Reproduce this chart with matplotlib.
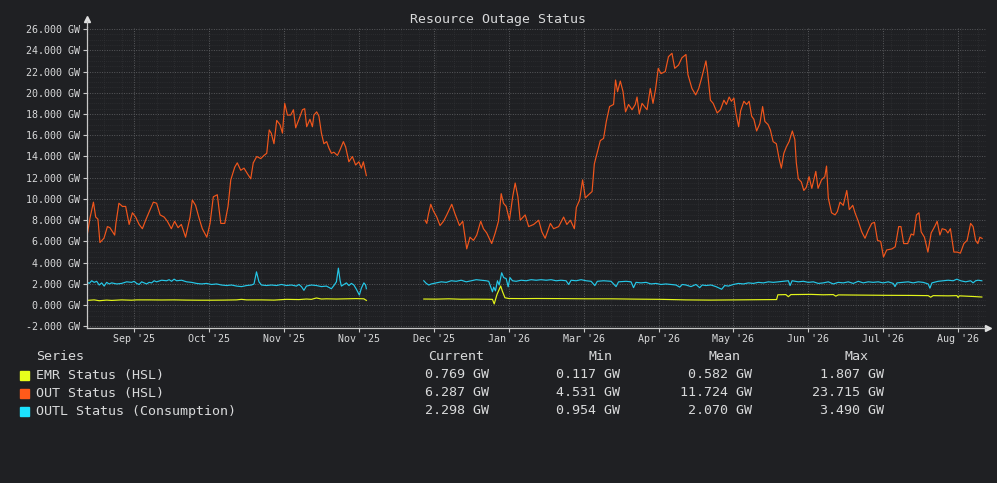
import numpy as np
import matplotlib
matplotlib.use("Agg")
import matplotlib.pyplot as plt
from matplotlib.ticker import MultipleLocator, FixedLocator
from matplotlib.patches import Rectangle

# time axis in days from start of window (~mid Aug 2025)
tick_days = [19, 49, 79, 109, 139, 169, 199, 229, 259, 289, 319, 349]
tick_labels = ["Sep '25", "Oct '25", "Nov '25", "Nov '25", "Dec '25", "Jan '26",
               "Mar '26", "Apr '26", "May '26", "Jun '26", "Jul '26", "Aug '26"]

# OUT Status (HSL) - two segments with a data gap
out_days_a = [0.2, 1.3, 2.7, 3.6, 4.5, 5.3, 6.9, 8.3, 9.3, 11.2, 11.7, 12.9, 14.3, 15.6, 17.0,
              18.3, 19.6, 21.0, 22.3, 23.6, 25.4, 26.7, 28.0, 29.4, 31.0, 32.3, 33.9, 35.2,
              36.6, 37.9, 39.6, 41.4, 42.3, 43.6, 45.0, 46.3, 48.1, 49.4, 50.7, 52.3, 53.7,
              55.3, 56.6, 57.7, 59.3, 60.3, 61.7, 63.0, 64.3, 65.7, 66.7, 68.1, 69.7, 71.0,
              72.1, 73.1, 73.9, 75.0, 76.1, 77.4, 78.4, 79.3, 80.4, 81.7, 82.8, 83.7, 85.0,
              86.4, 87.3, 88.1, 89.4, 90.4, 91.0, 92.1, 93.0, 94.0, 95.0, 96.1, 97.0, 98.0,
              99.0, 100.4, 101.4, 102.8, 103.7, 105.0, 106.4, 107.7, 109.0, 110.0, 110.8, 112.0]
out_vals_a = [6.6, 8.2, 9.7, 8.3, 8.1, 5.9, 6.3, 7.4, 7.3, 6.6, 7.7, 9.6, 9.3, 9.3, 7.6,
              8.7, 8.3, 7.6, 7.2, 8.0, 9.0, 9.7, 9.6, 8.5, 8.3, 7.9, 7.2, 7.9,
              7.3, 7.6, 6.4, 8.3, 9.9, 9.4, 8.2, 7.2, 6.4, 7.7, 10.2, 10.4, 7.7,
              7.7, 9.3, 11.8, 13.0, 13.4, 12.7, 12.9, 12.4, 11.9, 13.4, 14.0, 13.8, 14.1,
              14.3, 16.5, 16.2, 15.2, 17.4, 17.0, 16.2, 19.0, 17.9, 17.9, 18.4, 16.7, 17.5,
              18.4, 18.5, 16.8, 17.5, 16.8, 17.9, 18.2, 17.8, 16.2, 15.2, 15.4, 14.8, 14.3,
              14.4, 14.1, 14.6, 15.4, 14.9, 13.5, 14.0, 13.2, 13.5, 12.9, 13.5, 12.2]
out_days_b = [135.5, 136.2, 136.8, 137.8, 138.8, 140.2, 141.5, 142.9, 144.2, 146.2, 147.5,
              149.3, 150.6, 152.2, 153.5, 154.9, 156.2, 157.8, 158.9, 160.2, 162.2, 163.6,
              164.9, 166.0, 166.9, 168.0, 169.3, 170.6, 171.6, 172.7, 173.6, 175.6, 177.0,
              179.0, 181.0, 182.3, 183.6, 185.7, 187.0, 189.0, 191.0, 192.3, 193.7, 195.3,
              196.1, 197.4, 198.6, 199.7, 201.0, 202.4, 203.3, 204.4, 205.7, 207.0, 208.1,
              209.4, 211.0, 211.8, 212.6, 213.7, 214.8, 215.8, 217.0, 218.4, 219.7, 220.4,
              221.3, 222.4, 224.4, 225.7, 226.8, 227.8, 228.9, 230.0, 231.7, 233.0, 234.4,
              235.5, 237.0, 238.4, 240.0, 240.8, 242.4, 243.9, 245.1, 246.4, 248.0, 248.7,
              249.8, 250.9, 252.5, 253.8, 255.2, 256.2, 257.3, 258.2, 259.2, 260.0, 261.1,
              261.9, 263.2, 264.3, 265.3, 266.3, 267.2, 268.3, 269.6, 270.7, 271.6, 272.9,
              273.8, 274.9, 276.2, 277.3, 278.2, 279.2, 280.2, 281.3, 282.6, 283.6, 284.2,
              285.0, 286.2, 287.2, 288.2, 289.3, 290.4, 292.0, 292.9, 294.3, 295.6, 296.3,
              297.0, 298.3, 299.7, 300.6, 301.7, 303.0, 304.4, 305.4, 306.8, 307.7, 309.0,
              310.4, 311.7, 313.1, 314.4, 315.5, 316.7, 318.0, 319.1, 320.4, 322.5, 323.8,
              325.2, 326.1, 327.2, 328.8, 330.2, 331.2, 332.3, 333.3, 334.2, 335.5, 336.9,
              338.2, 339.6, 340.6, 341.7, 342.6, 344.0, 344.9, 345.9, 347.3, 348.6, 349.9,
              351.3, 352.6, 354.0, 355.0, 356.0, 356.9, 357.7, 358.6]
out_vals_b = [8.0, 7.7, 8.5, 9.5, 8.9, 8.3, 7.5, 7.9, 8.5, 9.5, 8.6,
              7.5, 7.9, 5.3, 6.4, 6.1, 6.6, 7.9, 7.2, 6.8, 5.8, 6.8,
              7.9, 10.5, 9.6, 9.3, 8.0, 10.2, 11.5, 10.2, 8.0, 8.5, 7.4,
              7.6, 8.0, 6.9, 6.3, 7.7, 7.2, 7.4, 8.3, 7.6, 8.0, 7.2,
              9.2, 9.9, 11.8, 10.1, 10.4, 10.7, 13.3, 14.3, 15.5, 15.7, 17.3,
              18.7, 18.9, 21.2, 20.1, 21.1, 20.1, 18.2, 18.9, 18.4, 18.9, 19.6,
              18.0, 19.0, 18.4, 20.4, 19.0, 20.3, 22.3, 21.8, 22.0, 23.4, 23.715,
              22.3, 22.6, 23.3, 23.6, 21.7, 20.4, 19.8, 20.4, 21.5, 23.0, 21.8,
              19.3, 19.0, 18.1, 18.4, 19.3, 18.9, 19.6, 19.2, 19.5, 18.1, 16.8,
              18.3, 19.2, 18.9, 19.2, 17.8, 17.5, 16.4, 17.1, 18.7, 17.3, 17.0,
              16.5, 15.4, 15.2, 13.8, 12.9, 14.3, 14.9, 15.4, 16.4, 15.6, 13.4,
              11.9, 11.6, 10.8, 11.1, 12.1, 11.0, 12.6, 11.0, 11.8, 12.1, 13.1,
              10.1, 8.7, 8.5, 8.8, 9.7, 9.4, 10.8, 9.0, 9.4, 8.7, 7.9,
              6.9, 6.3, 7.1, 7.7, 7.8, 6.1, 6.0, 4.531, 5.2, 5.3, 5.5,
              7.4, 7.4, 5.8, 5.8, 6.7, 6.6, 8.5, 8.7, 6.9, 6.4, 5.0,
              6.8, 7.4, 7.9, 6.6, 7.2, 7.1, 6.8, 7.2, 5.0, 5.0, 4.9,
              5.8, 6.1, 7.7, 7.4, 6.1, 5.8, 6.4, 6.287]

# OUTL Status (Consumption)
outl_days_a = [0, 1, 2, 3, 4, 5, 6, 7, 8, 9, 10, 12, 14, 16, 18, 19, 20, 21, 22, 24, 25, 26,
               27, 28, 30, 32, 33, 34, 35, 36, 38, 40, 42, 44, 46, 48, 50, 52, 54, 56, 58, 60,
               62, 64, 66, 67, 68, 69, 70, 72, 74, 76, 78, 80, 82, 84, 85, 86, 87, 88, 90, 92,
               94, 96, 98, 99, 100, 100.8, 101.5, 102, 103, 104, 105, 106, 107, 108, 109.2,
               110, 111, 111.7, 112]
outl_vals_a = [2.2, 2.05, 2.3, 2.15, 2.25, 1.9, 2.1, 1.8, 2.15, 2.0, 2.1, 2.0, 2.05, 2.2, 2.15,
               2.25, 2.05, 1.95, 2.2, 2.0, 2.15, 2.1, 2.3, 2.2, 2.35, 2.3, 2.4, 2.25, 2.45, 2.3,
               2.35, 2.2, 2.15, 2.05, 2.0, 2.05, 1.95, 2.0, 1.9, 1.85, 1.9, 1.8, 1.75, 1.85,
               1.9, 2.0, 3.14, 2.2, 1.9, 1.85, 1.9, 1.85, 1.95, 1.85, 1.9, 1.8, 1.95, 1.75,
               1.4, 1.8, 1.9, 1.85, 1.75, 1.8, 1.55, 1.85, 2.2, 3.49, 2.3, 1.8, 1.95, 2.1, 1.85,
               2.05, 1.9, 1.5, 0.954, 1.6, 2.1, 1.9, 1.55]
outl_days_b = [135, 136, 137, 138, 140, 142, 144, 146, 148, 150, 152, 154, 156, 158, 160, 161,
               162, 162.5, 163, 163.7, 164.5, 165.2, 166.2, 167, 168, 168.8, 169.5, 170.5, 172,
               174, 176, 178, 180, 182, 184, 186, 188, 190, 192, 193, 194, 196, 198, 200, 202,
               203.5, 204.5, 207, 210, 212, 213, 216, 218, 219, 220, 222, 224, 226, 228, 230,
               232, 234, 236, 237.5, 238.5, 240, 242, 244, 245.5, 246.5, 248, 250, 252, 254.3,
               255.5, 257, 259, 261, 263, 265, 267, 269, 271, 273, 275, 277, 279, 281, 281.7,
               282.5, 285, 287, 289, 291, 293, 295, 297, 299, 301, 303, 305, 307, 309, 311, 313,
               315, 317, 319, 321, 323, 323.7, 324.5, 327, 329, 331, 333, 335, 337, 337.7, 338.5,
               341, 343, 345, 347, 348.5, 350, 352, 354, 355, 356, 357, 358.5]
outl_vals_b = [2.3, 2.05, 1.9, 2.0, 2.1, 2.2, 2.15, 2.3, 2.25, 2.35, 2.2, 2.3, 2.4, 2.35, 2.3,
               2.25, 1.6, 1.26, 1.7, 1.35, 2.3, 1.9, 3.05, 2.6, 2.5, 1.73, 2.6, 2.3, 2.25,
               2.35, 2.3, 2.4, 2.35, 2.4, 2.35, 2.4, 2.3, 2.35, 2.3, 1.95, 2.35, 2.3, 2.4, 2.3, 2.25,
               1.85, 2.25, 2.3, 2.25, 1.75, 2.2, 2.25, 2.2, 1.65, 2.15, 2.1, 2.15, 2.0, 2.05, 1.95,
               2.0, 1.95, 1.9, 1.7, 1.95, 1.9, 1.75, 1.95, 1.65, 1.9, 1.85, 1.9, 1.75, 1.5,
               1.85, 1.8, 1.95, 2.05, 2.0, 2.1, 2.05, 2.15, 2.1, 2.2, 2.15, 2.2, 2.25, 2.3, 1.85,
               2.3, 2.2, 2.25, 2.15, 2.2, 2.05, 2.1, 2.2, 2.0, 2.15, 2.1, 2.2, 2.05, 2.25, 2.1, 2.2,
               2.15, 2.2, 2.1, 2.2, 2.05, 1.75, 2.1, 2.15, 2.2, 2.1, 2.2, 2.15, 2.0, 1.6, 2.1,
               2.25, 2.3, 2.35, 2.3, 2.45, 2.3, 2.2, 2.3, 2.1, 2.3, 2.35, 2.298]

# EMR Status (HSL)
emr_days_a = [0, 3, 5, 8, 10, 14, 18, 20, 25, 30, 35, 40, 45, 50, 55, 60, 62, 64, 70, 75, 80,
              85, 88, 90, 92, 94, 96, 100, 104, 108, 111, 112]
emr_vals_a = [0.45, 0.5, 0.42, 0.48, 0.45, 0.5, 0.47, 0.5, 0.5, 0.49, 0.5, 0.48, 0.47, 0.47,
              0.48, 0.5, 0.55, 0.5, 0.5, 0.48, 0.55, 0.53, 0.58, 0.55, 0.68, 0.58, 0.6, 0.58,
              0.6, 0.62, 0.6, 0.45]
emr_days_b = [135, 140, 145, 150, 155, 160, 162.5, 163.2, 164.3, 165.8, 166.5, 167.5, 169, 175,
              180, 190, 200, 210, 220, 230, 240, 250, 260, 270, 276.3, 276.8, 280, 281, 282,
              290, 295, 299, 300, 301, 310, 320, 330, 337, 338, 339, 345, 348.5, 349, 349.5,
              355, 358.5]
emr_vals_b = [0.58, 0.57, 0.6, 0.56, 0.57, 0.56, 0.55, 0.117, 1.0, 1.807, 1.3, 0.7, 0.63, 0.62,
              0.63, 0.62, 0.6, 0.6, 0.57, 0.55, 0.5, 0.48, 0.5, 0.52, 0.53, 0.98, 1.0, 0.8, 1.0,
              1.02, 0.98, 1.0, 0.85, 0.97, 0.95, 0.93, 0.92, 0.9, 0.75, 0.9, 0.88, 0.9, 0.72,
              0.88, 0.82, 0.769]

series_names = ["EMR Status (HSL)", "OUT Status (HSL)", "OUTL Status (Consumption)"]
series_colors = ["#e8ff1c", "#ff5a1a", "#1ce3ff"]
line_colors = ["#e3f51a", "#f2561c", "#25c8e8"]
current_vals = ["0.769 GW", "6.287 GW", "2.298 GW"]
min_vals = ["0.117 GW", "4.531 GW", "0.954 GW"]
mean_vals = ["0.582 GW", "11.724 GW", "2.070 GW"]
max_vals = ["1.807 GW", "23.715 GW", "3.490 GW"]

BG = "#1f2023"
FG = "#d8d9da"
plt.rcParams['font.family'] = ['DejaVu Sans Mono']

fig = plt.figure(figsize=(9.97, 4.83), dpi=100, facecolor=BG)
W, H = 997, 483
ax = fig.add_axes([86.7 / W, 1 - 327.5 / H, (985.6 - 86.7) / W, (327.5 - 26.9) / H])
ax.set_facecolor(BG)

ax.plot(outl_days_a, outl_vals_a, color=line_colors[2], lw=0.85)
ax.plot(outl_days_b, outl_vals_b, color=line_colors[2], lw=0.85)
ax.plot(emr_days_a, emr_vals_a, color=line_colors[0], lw=0.85)
ax.plot(emr_days_b, emr_vals_b, color=line_colors[0], lw=0.85)
ax.plot(out_days_a, out_vals_a, color=line_colors[1], lw=0.85)
ax.plot(out_days_b, out_vals_b, color=line_colors[1], lw=0.85)

ax.set_xlim(0, 360)
ax.set_ylim(-2.1, 26.2)
ax.xaxis.set_major_locator(FixedLocator(tick_days))
ax.set_xticklabels(tick_labels)
ax.xaxis.set_minor_locator(MultipleLocator(7))
ax.yaxis.set_major_locator(MultipleLocator(2))
ax.yaxis.set_minor_locator(MultipleLocator(0.5))
ax.yaxis.set_major_formatter(lambda v, p: f"{v:.3f} GW")

ax.grid(which='major', color='#58595c', linestyle=(0, (1, 1.5)), linewidth=0.7)
ax.grid(which='minor', color='#303134', linestyle=(0, (1, 1.5)), linewidth=0.6)
ax.set_axisbelow(True)

for s in ['top', 'right']:
    ax.spines[s].set_visible(False)
for s in ['left', 'bottom']:
    ax.spines[s].set_color('#c8c8c8')
    ax.spines[s].set_linewidth(0.9)
ax.tick_params(which='major', colors='#c8c8c8', labelsize=7.2, length=3, pad=2,
               labelcolor=FG)
ax.tick_params(which='minor', length=0)

# axis arrows
ax.plot([0], [1.025], marker='^', markersize=4, color='#e0e0e0',
        transform=ax.transAxes, clip_on=False)
ax.plot([0, 0], [1.0, 1.02], color='#c8c8c8', lw=0.9, transform=ax.transAxes, clip_on=False)
ax.plot([1.0, 1.002], [0, 0], color='#c8c8c8', lw=0.9, transform=ax.transAxes, clip_on=False)
ax.plot([1.003], [0], marker='>', markersize=4, color='#e0e0e0',
        transform=ax.transAxes, clip_on=False)

fig.text(498 / W, 1 - 19 / H, "Resource Outage Status", ha='center', va='center',
         color=FG, fontsize=9.5)

# legend table
def fy(y):
    return 1 - y / H

fs = 9.6
fig.text(36 / W, fy(356), "Series", color=FG, fontsize=fs, va='center')
for txt, xc in [("Current", 456), ("Min", 600), ("Mean", 724), ("Max", 856)]:
    fig.text(xc / W, fy(356), txt, color=FG, fontsize=fs, va='center', ha='center')
rows_y = [375, 393, 411]
for i in range(3):
    y = rows_y[i]
    fig.patches.append(Rectangle((20 / W, fy(y + 4.5)), 9 / W, 9 / H, color=series_colors[i],
                                 transform=fig.transFigure, figure=fig))
    fig.text(36 / W, fy(y), series_names[i], color=FG, fontsize=fs, va='center')
    fig.text(489 / W, fy(y), current_vals[i], color=FG, fontsize=fs, va='center', ha='right')
    fig.text(620 / W, fy(y), min_vals[i], color=FG, fontsize=fs, va='center', ha='right')
    fig.text(752 / W, fy(y), mean_vals[i], color=FG, fontsize=fs, va='center', ha='right')
    fig.text(884 / W, fy(y), max_vals[i], color=FG, fontsize=fs, va='center', ha='right')

fig.savefig("out.png", dpi=100, facecolor=BG)
